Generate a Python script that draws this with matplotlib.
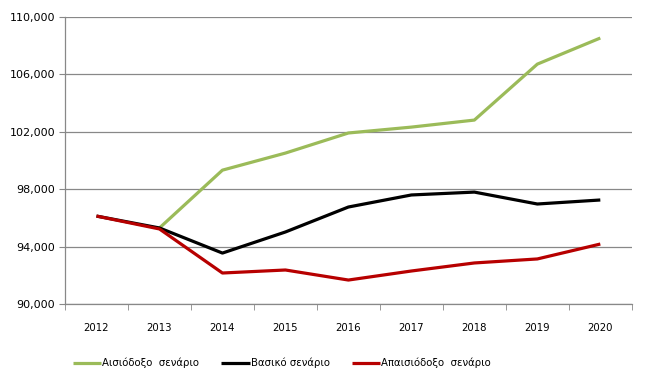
import numpy as np
import matplotlib.pyplot as plt
from matplotlib.ticker import FuncFormatter, FixedLocator

years = ['2012', '2013', '2014', '2015', '2016', '2017', '2018', '2019', '2020']
optimistic = [None, 95300, 99330, 100520, 101920, 102330, 102820, 106720, 108540]
baseline = [96130, 95300, 93550, 95020, 96760, 97600, 97800, 96970, 97250]
pessimistic = [96130, 95230, 92160, 92370, 91670, 92300, 92860, 93140, 94180]

labels = ['Αισιόδοξο  σενάριο', 'Βασικό σενάριο', 'Απαισιόδοξο  σενάριο']
colors = ['#9BBB59', '#000000', '#B70000']

fig = plt.figure(figsize=(6.48, 3.88), dpi=100)
ax = fig.add_axes([0.1003, 0.2165, 0.8747, 0.7395])

x = np.arange(len(years))
opt = np.array([np.nan if v is None else v for v in optimistic], dtype=float)
ax.plot(x, opt, color=colors[0], lw=2.3, label=labels[0], solid_capstyle='butt')
ax.plot(x, baseline, color=colors[1], lw=2.3, label=labels[1], solid_capstyle='butt')
ax.plot(x, pessimistic, color=colors[2], lw=2.3, label=labels[2], solid_capstyle='butt')

ax.set_xlim(-0.5, len(years) - 0.5)
ax.set_ylim(90000, 110000)
ax.set_yticks(np.arange(90000, 110001, 4000))
ax.yaxis.set_major_formatter(FuncFormatter(lambda v, p: f'{int(v):,}'))
ax.grid(axis='y', color='#888888', lw=0.9)
ax.set_axisbelow(True)

ax.set_xticks(x)
ax.set_xticklabels(years)
ax.xaxis.set_minor_locator(FixedLocator(np.arange(-0.5, len(years), 1)))
ax.tick_params(axis='x', which='major', length=0, pad=14, labelsize=7.3)
ax.tick_params(axis='x', which='minor', length=4, color='#888888')
ax.tick_params(axis='y', length=4, color='#888888', labelsize=8, pad=3)

for s in ['top', 'right']:
    ax.spines[s].set_visible(False)
for s in ['left', 'bottom']:
    ax.spines[s].set_color('#888888')
    ax.spines[s].set_linewidth(0.9)

fig.legend(loc='center left', bbox_to_anchor=(0.112, 0.064), ncol=3, frameon=False,
           fontsize=7.3, handlelength=2.8, handletextpad=0.1, columnspacing=2.2,
           borderpad=0, borderaxespad=0)

plt.savefig('out.png', dpi=100)
